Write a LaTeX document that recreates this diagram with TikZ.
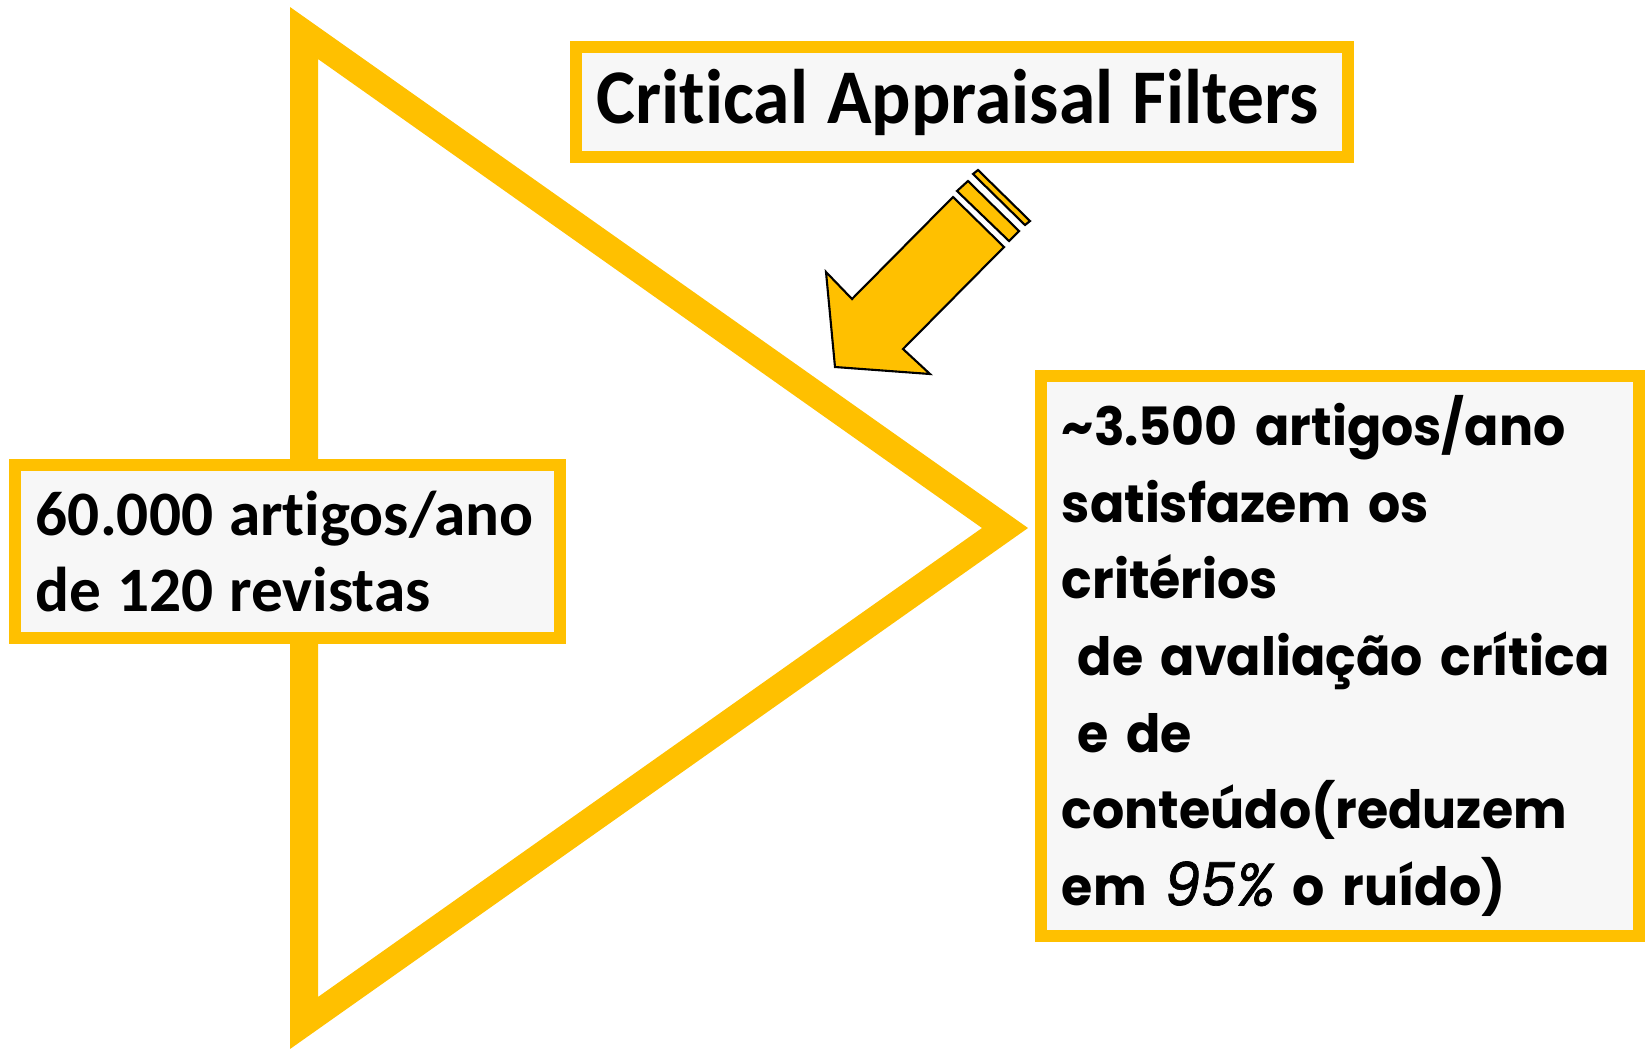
\documentclass[tikz,border=0pt]{standalone}
\usepackage{fontspec}
\setmainfont{Carlito}[Ligatures=NoCommon]
\newfontfamily\narrowfont{Carlito}[Ligatures=NoCommon, FakeStretch=0.95]
\newfontfamily\geofont{Poppins}[FakeStretch=0.96]
\newcommand{\tightspace}{\spaceskip=.25em\relax}
\definecolor{gold}{HTML}{FFC000}
\definecolor{boxfill}{HTML}{F7F7F7}
\tikzset{
  goldbox/.style={draw=gold, line width=3.4pt, fill=boxfill, inner xsep=6pt, inner ysep=0pt, align=left},
  blockarrow/.style={draw=black, line width=0.6pt, fill=gold, line join=miter},
}
\begin{document}
\begin{tikzpicture}[x=0.01cm, y=-0.01cm]
  \useasboundingbox (0,0) rectangle (1645,1048);
  % funnel
  \fill[gold, even odd rule] (290,7) -- (1028,528) -- (290,1049) -- cycle
    (318,59) -- (982,528) -- (318,997) -- cycle;
  % boxes
  \node[goldbox, minimum width=5.45cm, minimum height=1.73cm, text width=5.03cm,
    font=\fontsize{18}{21.6}\selectfont\bfseries] (input) at (287.5,551.5)
    {\tightspace 60.000 artigos/ano\\de 120 revistas};
  \node[goldbox, minimum width=7.72cm, minimum height=1.09cm, text width=7.30cm,
    font=\narrowfont\fontsize{22}{26}\selectfont\bfseries] (filters) at (962,102)
    {\tightspace\raisebox{-2pt}{Critical Appraisal Filters}};
  \node[goldbox, minimum width=5.98cm, minimum height=5.60cm, text width=5.56cm,
    font=\geofont\fontsize{15}{21.8}\selectfont\bfseries] (output) at (1340,656)
    {\textasciitilde 3.500 artigos/ano\\
     satisfazem os\\
     critérios\\
     \hspace*{.3em}de avaliação crítica\\
     \hspace*{.3em}e de\\
     conteúdo(reduzem\\
     em {\mdseries\itshape\addfontfeature{FakeBold=1.2}\fontsize{17}{21.8}\selectfont 95\%} o ruído)};
  % arrow
  \draw[blockarrow] (835,367) -- (930,374) -- (903,349) -- (1004,247) -- (953,197)
    -- (852,299) -- (826,272) -- cycle;
  \draw[blockarrow] (957,191) -- (968,181) -- (1019,231) -- (1009,241) -- cycle;
  \draw[blockarrow] (973,174) -- (978,170) -- (1030,221) -- (1025,225) -- cycle;
\end{tikzpicture}
\end{document}
